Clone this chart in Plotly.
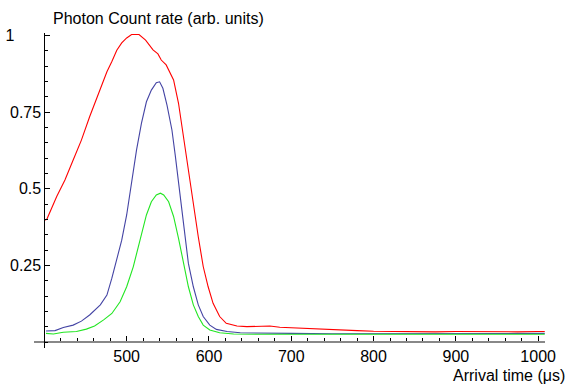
import plotly.graph_objects as go

# ---- data ----
x_red = [400, 403, 415, 425, 435, 445, 455, 465, 476, 482, 488, 494, 500, 506, 515, 523, 532, 538, 542,
         548, 557, 563, 569, 575, 581, 587, 593, 599, 605, 613, 621, 634, 646, 660, 674, 686, 700,
         720, 740, 760, 780, 800, 825, 850, 875, 900, 925, 950, 975, 1000, 1008]
y_red = [0.398, 0.401, 0.475, 0.529, 0.594, 0.659, 0.735, 0.806, 0.882, 0.915, 0.952, 0.976, 0.992, 1.003,
         1.003, 0.985, 0.953, 0.940, 0.920, 0.904, 0.855, 0.779, 0.670, 0.561, 0.442, 0.344, 0.247,
         0.181, 0.127, 0.084, 0.062, 0.053, 0.051, 0.052, 0.053, 0.049, 0.047, 0.045, 0.042, 0.040,
         0.038, 0.036, 0.035, 0.035, 0.034, 0.035, 0.034, 0.035, 0.034, 0.035, 0.035]

x_blue = [402, 413, 423, 435, 445, 455, 468, 476, 482, 488, 494, 500, 506, 512, 518, 524, 530, 536,
          540, 544, 549, 555, 559, 563, 567, 571, 575, 581, 587, 593, 601, 609, 622, 638, 674, 700,
          750, 800, 850, 900, 950, 1000, 1008]
y_blue = [0.037, 0.038, 0.048, 0.056, 0.069, 0.089, 0.122, 0.154, 0.209, 0.268, 0.333, 0.415, 0.523,
          0.627, 0.714, 0.784, 0.822, 0.846, 0.849, 0.828, 0.773, 0.692, 0.610, 0.518, 0.420, 0.333,
          0.257, 0.181, 0.122, 0.084, 0.056, 0.042, 0.035, 0.031, 0.029, 0.029, 0.028, 0.028, 0.029,
          0.028, 0.028, 0.028, 0.029]

x_green = [402, 411, 423, 439, 451, 461, 472, 482, 492, 500, 508, 516, 524, 530, 536, 541, 545, 551,
           557, 563, 569, 575, 581, 587, 593, 601, 613, 630, 674, 700, 750, 800, 850, 900, 950, 1000, 1008]
y_green = [0.029, 0.027, 0.0325, 0.035, 0.043, 0.053, 0.073, 0.094, 0.132, 0.181, 0.246, 0.333, 0.415,
           0.458, 0.480, 0.486, 0.480, 0.458, 0.410, 0.339, 0.257, 0.181, 0.122, 0.084, 0.056, 0.040,
           0.031, 0.027, 0.026, 0.026, 0.025, 0.026, 0.025, 0.025, 0.026, 0.025, 0.026]

x_tickvals = [500, 600, 700, 800, 900, 1000]
x_ticktext = ["500", "600", "700", "800", "900", "1000"]
y_tickvals = [0.25, 0.5, 0.75, 1.0]
y_ticktext = ["0.25", "0.5", "0.75", "1\u2007\u2007\u2007"]

x_label = "Arrival time (\u03bcs)"
y_label = "Photon Count rate (arb. units)"

FONT = "Liberation Sans, Arial, sans-serif"
FS = 16

fig = go.Figure()
fig.add_trace(go.Scatter(x=x_red, y=y_red, mode="lines", line=dict(color="#ff0000", width=1.1)))
fig.add_trace(go.Scatter(x=x_blue, y=y_blue, mode="lines", line=dict(color="#4444a4", width=1.1)))
fig.add_trace(go.Scatter(x=x_green, y=y_green, mode="lines", line=dict(color="#22e622", width=1.1)))

xr = [387.4, 1008.3]
yr = [-0.0186, 1.0081]
ypos = (400 - xr[0]) / (xr[1] - xr[0])
xpos = (0 - yr[0]) / (yr[1] - yr[0])

fig.update_layout(
    width=567, height=385,
    margin=dict(l=34, r=22, t=33, b=37, autoexpand=False),
    paper_bgcolor="white", plot_bgcolor="white",
    showlegend=False,
    font=dict(family=FONT, size=FS, color="black"),
    xaxis=dict(range=xr, anchor="free", position=xpos, showgrid=False, zeroline=False,
               showline=True, linecolor="#888888", linewidth=2, automargin=False,
               tickmode="array", tickvals=x_tickvals, ticktext=x_ticktext,
               ticks="inside", ticklen=5, tickcolor="black", tickwidth=1,
               minor=dict(tickmode="linear", tick0=400, dtick=20, ticks="inside",
                          ticklen=3, tickcolor="black", tickwidth=1, showgrid=False),
               tickfont=dict(family=FONT, size=FS, color="black")),
    yaxis=dict(range=yr, anchor="free", position=ypos, showgrid=False, zeroline=False,
               showline=True, linecolor="black", linewidth=1, automargin=False,
               tickmode="array", tickvals=y_tickvals, ticktext=y_ticktext,
               ticks="inside", ticklen=5, tickcolor="black", tickwidth=1,
               minor=dict(tickmode="linear", tick0=0, dtick=0.05, ticks="inside",
                          ticklen=3, tickcolor="black", tickwidth=1, showgrid=False),
               tickfont=dict(family=FONT, size=FS, color="black")),
)

fig.add_annotation(text=y_label, xref="paper", yref="paper", x=(51 - 34) / 511, y=1 + (33 - 19) / 315,
                   xanchor="left", yanchor="middle", showarrow=False,
                   font=dict(family=FONT, size=FS, color="black"))
fig.add_annotation(text=x_label, xref="paper", yref="paper", x=(567 - 34) / 511, y=-(376 - 348) / 315,
                   xanchor="right", yanchor="middle", showarrow=False,
                   font=dict(family=FONT, size=FS, color="black"))

fig.write_html("out.html")
